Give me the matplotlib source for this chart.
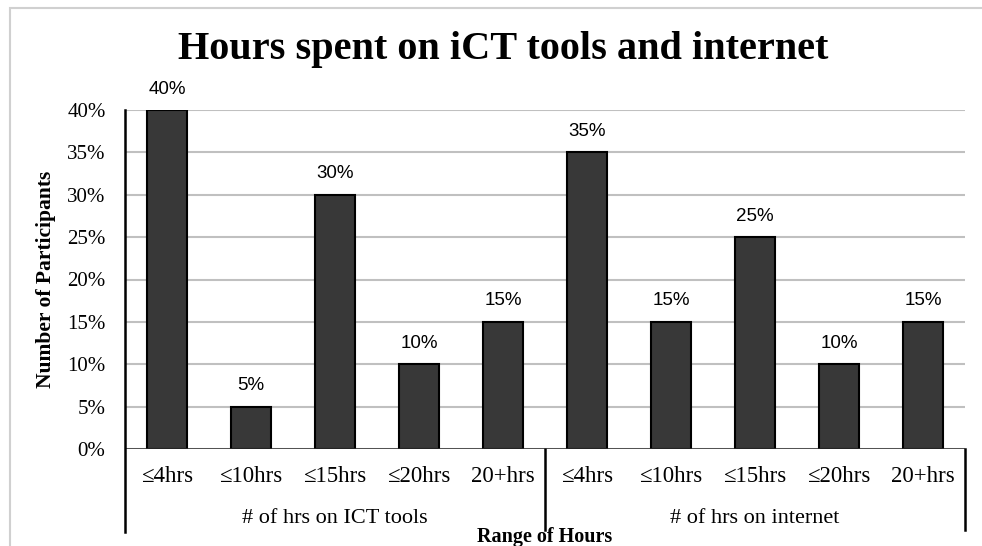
import matplotlib.pyplot as plt
from matplotlib.lines import Line2D
from matplotlib.patches import Rectangle

categories = ['≤4hrs', '≤10hrs', '≤15hrs', '≤20hrs', '20+hrs']
groups = ['# of hrs on ICT tools', '# of hrs on internet']
ict_values = [40, 5, 30, 10, 15]
internet_values = [35, 15, 25, 10, 15]
y_ticks = [0, 5, 10, 15, 20, 25, 30, 35, 40]

serif = 'Liberation Serif'
sans = 'Liberation Sans'

fig = plt.figure(figsize=(9.82, 5.46), dpi=100)
ax = fig.add_axes([125 / 982, 97 / 546, 840 / 982, 339 / 546])

values = ict_values + internet_values
labels = categories + categories
x = list(range(len(values)))
ax.bar(x, values, width=0.48, color='#383838', edgecolor='black', linewidth=1.5, zorder=3)

for xi, v in zip(x, values):
    ax.annotate('%d%%' % v, (xi, v), xytext=(0, 9), textcoords='offset points',
                ha='center', va='bottom', fontsize=13.5, family=sans)

ax.set_xlim(-0.5, len(values) - 0.5)
ax.set_ylim(0, 40)
ax.set_yticks(y_ticks)
ax.set_yticklabels(['%d%%' % t for t in y_ticks], family=serif, fontsize=15)
ax.tick_params(axis='y', length=0, pad=14)
ax.set_xticks([])
ax.grid(axis='y', color='#c0c0c0', linewidth=1.5, zorder=0)
for s in ['top', 'right', 'bottom']:
    ax.spines[s].set_visible(False)
ax.spines['left'].set_visible(False)
ax.axhline(0, color='#303030', linewidth=1.8, zorder=4)

# category labels and group labels below axis
trans = ax.get_xaxis_transform()
for xi, lab in zip(x, labels):
    ax.text(xi, -0.08, lab, transform=trans, ha='center', va='center', fontsize=16.5, family=serif)
n = len(categories)
for gi, g in enumerate(groups):
    ax.text(gi * n + (n - 1) / 2, -0.205, g, transform=trans, ha='center', va='center',
            fontsize=16, family=serif)

# left spine and separator lines
ax.add_line(Line2D([-0.5, -0.5], [1, -0.245], transform=trans, color='black',
                   linewidth=1.8, clip_on=False, zorder=5))
for xs in [n - 0.5, 2 * n - 0.5]:
    ax.add_line(Line2D([xs, xs], [0, -0.24], transform=trans, color='black',
                       linewidth=1.8, clip_on=False))

ax.text(0.5, -0.259, 'Range of Hours', transform=ax.transAxes, ha='center', va='center',
        fontsize=14.5, fontweight='bold', family=serif)
ax.set_ylabel('Number of Participants', fontsize=15.5, fontweight='bold', family=serif, labelpad=8)

fig.text(503 / 982, 1 - 50 / 546, 'Hours spent on iCT tools and internet', ha='center', va='center',
         fontsize=29, fontweight='bold', family=serif)

# light outer chart border
fig.add_artist(Rectangle((10 / 982, -0.1), 1.2, 1 - 8 / 546 + 0.1, transform=fig.transFigure,
                         fill=False, edgecolor='#d0d0d0', linewidth=1.5))

fig.savefig('out.png', dpi=100)
